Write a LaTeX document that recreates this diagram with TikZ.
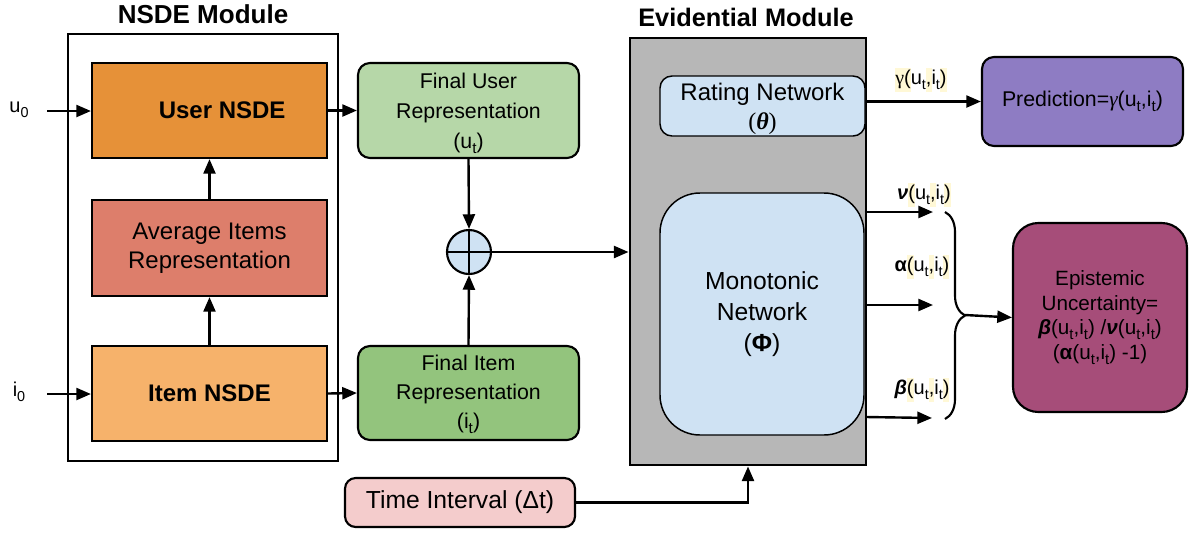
\documentclass[tikz,border=0pt]{standalone}
\usepackage{fontspec}
\usepackage{graphicx}
\setmainfont{Liberation Sans}
\newfontfamily\serifgr{Liberation Serif}
\usetikzlibrary{arrows.meta,fit,decorations.pathreplacing,calc}

\definecolor{userorange}{HTML}{E69138}
\definecolor{avgred}{HTML}{DD7E6B}
\definecolor{itemorange}{HTML}{F6B26B}
\definecolor{greenA}{HTML}{B6D7A8}
\definecolor{greenB}{HTML}{93C47D}
\definecolor{paleblue}{HTML}{CFE2F3}
\definecolor{evgray}{HTML}{B7B7B7}
\definecolor{predpurple}{HTML}{8E7CC3}
\definecolor{epimagenta}{HTML}{A64D79}
\definecolor{timepink}{HTML}{F4CCCC}
\definecolor{hly}{HTML}{FFF8D6}

\newcommand{\lowsub}[1]{\raisebox{-0.42ex}{\scalebox{0.72}{#1}}}
\newcommand{\usub}{u\lowsub{t}}
\newcommand{\isub}{i\lowsub{t}}
\newcommand{\hlmark}[1]{{\setlength{\fboxsep}{0pt}\colorbox{hly}{\strut #1}}}
\newcommand{\fs}[2]{\fontsize{#1}{#2}\selectfont}

\begin{document}
\begin{tikzpicture}[x=0.75pt,y=-0.75pt,
  box/.style={draw, line width=1.6pt, inner sep=0pt},
  rbox/.style={box, rounded corners=9pt},
  arr/.style={-{Triangle[length=11pt,width=9pt]}, line width=1.8pt},
  outlabel/.style={font=\fs{15}{18}, inner sep=0pt}
]
\useasboundingbox (0,0) rectangle (1189,533);

% ---------- NSDE module ----------
\node[font=\bfseries\fs{19.5}{24}] (nsdetitle) at (203,14) {NSDE Module};
\node[draw, line width=1.4pt, inner sep=0pt, fit={(68,34) (338,461)}] (nsde) {};

\node[box, fill=userorange, fit={(92,63) (327,158)},
      label={[font=\bfseries\fs{18}{22}, xshift=9.5pt]center:User NSDE}] (user) {};
\node[box, fill=avgred, fit={(92,200) (327,296)},
      label={[align=center, font=\fs{18}{21.5}]center:Average Items\\Representation}] (avg) {};
\node[box, fill=itemorange, fit={(92,346) (327,441)},
      label={[font=\bfseries\fs{18}{22}]center:Item NSDE}] (item) {};

\node[font=\fs{15}{18}, inner sep=0pt] (u0) at (19,110) {u\lowsub{0}};
\node[font=\fs{15}{18}, inner sep=0pt] (i0) at (19,392) {i\lowsub{0}};
\coordinate (uin) at (47,111);
\coordinate (iin) at (47,394);

\draw[arr] (uin) -- (uin -| user.west);
\draw[arr] (iin) -- (iin -| item.west);
\draw[arr] (item.north) -- (avg.south);
\draw[arr] (avg.north) -- (user.south);

% ---------- final representations ----------
\node[rbox, fill=greenA, fit={(358,63) (579,158)},
      label={[align=center, font=\fs{16}{22.5}, yshift=-2pt]center:Final User\\Representation\\(\usub)}] (fu) {};
\node[rbox, fill=greenB, fit={(358,346) (579,440)},
      label={[align=center, font=\fs{16}{22}, yshift=-1pt]center:Final Item\\Representation\\(\isub)}] (fi) {};
\node[circle, draw, line width=1.6pt, fill=paleblue, minimum size=33pt, inner sep=0pt] (op) at (469,252) {};
\draw[line width=1.6pt] (op.north) -- (op.south) (op.west) -- (op.east);

\draw[arr] (user.east) -- (fu.west);
\draw[arr] (item.east) -- (fi.west);
\draw[arr] (fu.south) -- (op.north);
\draw[arr] (fi.north) -- (op.south);

% ---------- evidential module ----------
\node[font=\bfseries\fs{19}{24}] (evtitle) at (746,17) {Evidential Module};
\node[draw, line width=2.2pt, fill=evgray, inner sep=0pt, fit={(630,38) (866,465)}] (ev) {};
\node[draw, line width=1.1pt, fill=paleblue, rounded corners=9pt, inner sep=0pt,
      fit={(660,76) (865,136)},
      label={[align=center, font=\fs{18}{22}, yshift=-2pt]center:Rating Network\\{\serifgr(\textbf{\textit{θ}})}}] (rating) {};
\node[draw, line width=1.1pt, fill=paleblue, rounded corners=30pt, inner sep=0pt,
      fit={(660,193) (864,435)},
      label={[align=center, font=\fs{18.5}{23}]center:Monotonic\\Network\\(\textbf{Φ})}] (mono) {};

\draw[arr] (op.east) -- (op.east -| ev.west);

% ---------- outputs ----------
\node[rbox, fill=predpurple, fit={(982,57) (1183,146)},
      label={[font=\fs{16}{20}]center:Prediction={\serifgr\itshape γ}(\usub,\isub)}] (pred) {};
\node[box, rounded corners=19pt, fill=epimagenta, fit={(1013,223) (1187,412)},
      label={[align=center, font=\fs{15.5}{18.5}]center:Epistemic\\Uncertainty=\\{\bfseries\itshape β}(\usub,\isub) /{\bfseries\itshape ν}(\usub,\isub)\\(\textbf{α}(\usub,\isub) -1)}] (epi) {};

\node[outlabel] (lg) at (921,80) {\hlmark{{\serifgr γ}(}\usub\hlmark{,}\isub\hlmark{)}};
\node[outlabel] (ln) at (924,195) {{\bfseries\itshape ν}\hlmark{(}\usub\hlmark{,}\isub\hlmark{)}};
\node[outlabel] (la) at (922,267) {\textbf{α}\hlmark{(}\usub\hlmark{,}\isub\hlmark{)}};
\node[outlabel] (lb) at (922,390) {{\bfseries\itshape β}\hlmark{(}\usub\hlmark{,}\isub\hlmark{)}};

\draw[arr] (rating.east |- pred.west) -- (pred.west);

\coordinate (nu) at (933,212);
\coordinate (al) at (933,305);
\coordinate (be) at (932,418);
\draw[arr] (mono.east |- nu) -- (nu);
\draw[arr] (mono.east |- al) -- (al);
\draw[arr] (866,417) -- (be);

\draw[line width=1.6pt, decorate, decoration={brace, amplitude=15pt}] (945,212) -- (945,419);
\coordinate (tip) at (965,315);
\draw[arr] (tip) -- (epi.west);

% ---------- time interval ----------
\node[box, rounded corners=8pt, fill=timepink, fit={(345,478) (575,527)},
      label={[font=\fs{18.5}{22}]center:Time Interval (Δt)}] (time) {};
\draw[arr] (time.east) -| (ev.south);

\end{tikzpicture}
\end{document}
